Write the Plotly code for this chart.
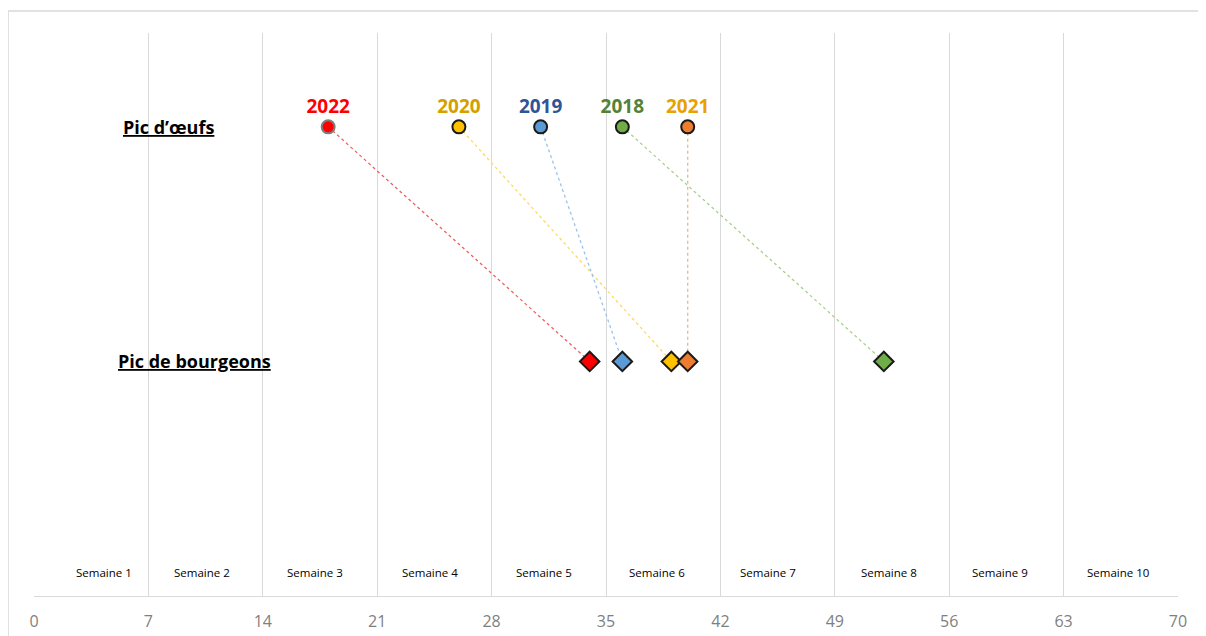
import plotly.graph_objects as go

years = ["2022", "2020", "2019", "2018", "2021"]
egg_peak = [18, 26, 31, 36, 40]
bud_peak = [34, 39, 36, 52, 40]
fill_colors = ["#FF0000", "#FFC000", "#5B9BD5", "#70AD47", "#ED7D31"]
line_colors = ["#F06060", "#FFD966", "#9DC3E6", "#A9D18E", "#F4B183"]
label_colors = ["#FF0000", "#D4A000", "#2F5597", "#548235", "#E8A200"]
edge_colors = ["#7F7F7F", "#1A1A1A", "#1A1A1A", "#1A1A1A", "#1A1A1A"]
row_labels = ["Pic d’œufs", "Pic de bourgeons"]
row_values = [2, 1]
week_labels = ["Semaine %d" % i for i in range(1, 11)]
week_centers = [4.3, 10.3, 17.2, 24.2, 31.2, 38.1, 44.9, 52.3, 59.1, 66.3]
tick_vals = list(range(0, 71, 7))

fig = go.Figure()

for i, y in enumerate(years):
    fig.add_trace(go.Scatter(
        x=[egg_peak[i], bud_peak[i]], y=[row_values[0], row_values[1]],
        mode="lines", line=dict(color=line_colors[i], width=1.3, dash="dot"),
        hoverinfo="skip", showlegend=False))

for i, y in enumerate(years):
    fig.add_trace(go.Scatter(
        x=[egg_peak[i]], y=[row_values[0]], mode="markers+text",
        marker=dict(symbol="circle", size=13, color=fill_colors[i],
                    line=dict(color=edge_colors[i], width=2)),
        text=["<b>%s</b>" % y], textposition="top center",
        textfont=dict(color=label_colors[i], size=19, family="Open Sans"),
        showlegend=False, name=y))
    fig.add_trace(go.Scatter(
        x=[bud_peak[i]], y=[row_values[1]], mode="markers",
        marker=dict(symbol="diamond", size=15, color=fill_colors[i],
                    line=dict(color="#1A1A1A", width=2)),
        showlegend=False, name=y))

annotations = []
row_label_x = [8.2, 9.8]
for lab, yv, xv in zip(row_labels, row_values, row_label_x):
    annotations.append(dict(x=xv, y=yv, xref="x", yref="y", showarrow=False,
                            text="<b><u>%s</u></b>" % lab,
                            font=dict(size=18, color="#000000", family="Open Sans")))
for lab, xc in zip(week_labels, week_centers):
    annotations.append(dict(x=xc, y=0.1, xref="x", yref="y", showarrow=False,
                            text=lab, font=dict(size=11.5, color="#000000", family="Open Sans")))

fig.update_layout(
    width=1198, height=628,
    margin=dict(l=26, r=28, t=25, b=40),
    paper_bgcolor="white", plot_bgcolor="white",
    annotations=annotations,
    xaxis=dict(range=[0, 70], tickmode="array", tickvals=tick_vals,
               showgrid=True, gridcolor="#D9D9D9", gridwidth=1,
               showline=True, linecolor="#D9D9D9", linewidth=1,
               zeroline=False, ticks="", ticklabelstandoff=11, automargin=False,
               tickfont=dict(size=16, color="#7F7F7F", family="Open Sans")),
    yaxis=dict(range=[0, 2.4], showgrid=False, showticklabels=False,
               zeroline=False, showline=False, fixedrange=True, automargin=False),
    shapes=[
        dict(type="line", xref="paper", yref="paper", x0=-0.0227, x1=1.03,
             y0=1.039, y1=1.039, line=dict(color="#D9D9D9", width=1.5)),
        dict(type="line", xref="paper", yref="paper", x0=-0.0227, x1=-0.0227,
             y0=1.039, y1=-0.08, line=dict(color="#D9D9D9", width=1.5)),
    ],
)

fig.write_html("out.html")
